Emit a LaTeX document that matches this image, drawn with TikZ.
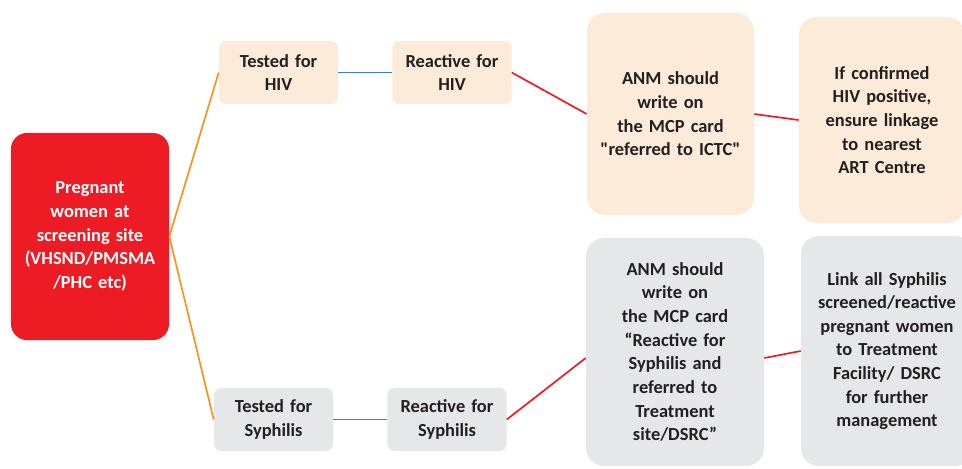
\documentclass[tikz,border=0pt]{standalone}
\usepackage{fontspec}
\setmainfont{Carlito}[Ligatures=TeXOff]
\definecolor{screenred}{HTML}{ED1C24}
\definecolor{hivpeach}{HTML}{FDEBD9}
\definecolor{syphgrey}{HTML}{E6E7E8}
\definecolor{linkorange}{HTML}{F7941D}
\definecolor{linkblue}{HTML}{3F7CC0}
\definecolor{inktext}{HTML}{231F20}

\begin{document}
\begin{tikzpicture}[x=0.025cm,y=-0.025cm,
   every node/.style={align=center,inner sep=0pt,text=inktext,
      font=\bfseries\fontsize{13.1pt}{16.8pt}\selectfont},
   smallbox/.style={text width=2.975cm,minimum height=1.575cm,rounded corners=0.175cm},
   bigbox/.style={rounded corners=0.45cm},
   hivbox/.style={fill=hivpeach},
   syphbox/.style={fill=syphgrey},
   orangeline/.style={draw=linkorange,line width=1.2pt},
   blueline/.style={draw=linkblue,line width=1.2pt},
   redline/.style={draw=screenred,line width=1.2pt}]
   \useasboundingbox (0,0) rectangle (962,468);
   \clip (0,0) rectangle (962,468);
   \node[fill=screenred,text=white,rounded corners=0.4cm,text width=3.95cm,minimum height=5.175cm] (women) at (90,236.5)
      {Pregnant\\women at\\screening site\\(VHSND/PMSMA\\/PHC etc)};
   % HIV row
   \node[smallbox,hivbox] (testhiv)  at (278.5,72.5) {Tested for\\HIV};
   \node[smallbox,hivbox] (reacthiv) at (452,72.5)   {Reactive for\\HIV};
   \node[bigbox,hivbox,text width=4.175cm,minimum height=5.05cm] (anmhiv) at (670.5,114)
      {ANM should\\write on\\the MCP card\\"referred to ICTC"};
   \node[bigbox,hivbox,text width=4.15cm,minimum height=5.15cm] (arthiv) at (882,120)
      {If confirmed\\HIV positive,\\ensure linkage\\to nearest\\ART Centre};
   % Syphilis row
   \node[smallbox,syphbox] (testsyph)  at (273.5,419.5) {Tested for\\Syphilis};
   \node[smallbox,syphbox] (reactsyph) at (447,419.5)   {Reactive for\\Syphilis};
   \node[bigbox,syphbox,text width=4.45cm,minimum height=5.7cm] (anmsyph) at (675,352)
      {ANM should\\write on\\the MCP card\\“Reactive for\\Syphilis and\\referred to\\Treatment\\site/DSRC”};
   \node[bigbox,syphbox,text width=4.3cm,minimum height=5.75cm] (linksyph) at (887,351)
      {Link all Syphilis\\screened/reactive\\pregnant women\\to Treatment\\Facility/ DSRC\\for further\\management};
   % connectors
   \path[orangeline] (women.east) edge (testhiv.west) edge (testsyph.west);
   \path[blueline] (testhiv) edge (reacthiv);
   \path[blueline] (testsyph) edge (reactsyph);
   \path[redline] (reacthiv.east) edge (anmhiv.west);
   \path[redline] (anmhiv.east) edge (arthiv.west);
   \path[redline] (reactsyph.east) edge ([yshift=-0.15cm]anmsyph.west);
   \path[redline] ([yshift=-0.15cm]anmsyph.east) edge (linksyph.west);
\end{tikzpicture}
\end{document}
